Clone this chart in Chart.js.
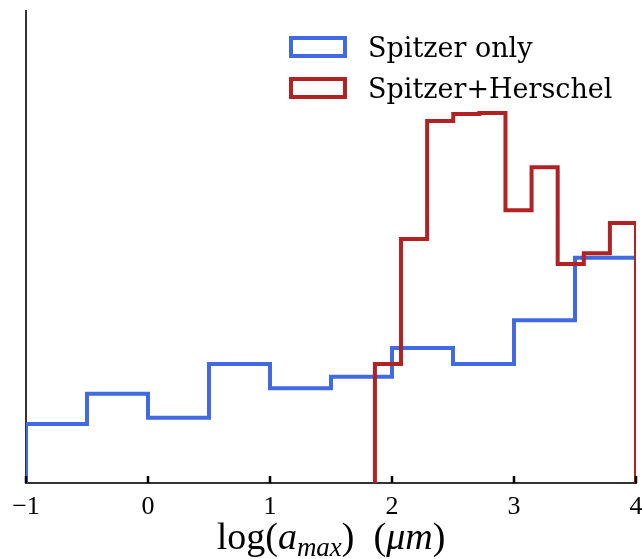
<!DOCTYPE html>
<html>
<head>
<meta charset="utf-8">
<script src="https://cdn.jsdelivr.net/npm/chart.js@4/dist/chart.umd.min.js"></script>
<style>
  html, body { margin: 0; padding: 0; background: #fff; }
  #wrap { width: 642px; height: 559px; }
</style>
</head>
<body>
<div id="wrap"><canvas id="chart" width="642" height="559"></canvas></div>
<script>
// histogram bin edges and heights (arbitrary normalised units)
const spitzerEdges = [-1, -0.5, 0, 0.5, 1, 1.5, 2, 2.5, 3, 3.5, 4];
const spitzerValues = [0.125, 0.189, 0.138, 0.252, 0.201, 0.225, 0.286, 0.252, 0.345, 0.477];

const herschelEdges = [1.86, 2.074, 2.288, 2.502, 2.716, 2.93, 3.144, 3.358, 3.572, 3.786, 4.0];
const herschelValues = [0.252, 0.517, 0.767, 0.782, 0.784, 0.578, 0.669, 0.464, 0.487, 0.551];

const xTicks = [-1, 0, 1, 2, 3, 4];
const seriesLabels = ["Spitzer only", "Spitzer+Herschel"];

// turn edges + heights into points for a stepped outline
function stepPoints(edges, values) {
  const pts = [{ x: edges[0], y: 0 }];
  values.forEach((v, i) => pts.push({ x: edges[i], y: v }));
  pts.push({ x: edges[edges.length - 1], y: 0 });
  return pts;
}

// inward tick marks on the bottom axis
const innerTicks = {
  id: "innerTicks",
  afterDraw(chart) {
    const ctx = chart.ctx;
    const xs = chart.scales.x;
    const bottom = chart.chartArea.bottom;
    ctx.save();
    ctx.strokeStyle = "#000";
    ctx.lineWidth = 2.5;
    xTicks.forEach((t) => {
      const px = Math.round(xs.getPixelForValue(t));
      ctx.beginPath();
      ctx.moveTo(px, bottom);
      ctx.lineTo(px, bottom - 7);
      ctx.stroke();
    });
    ctx.restore();
  },
};

// axis title with subscript, mathtext style
const axisTitle = {
  id: "axisTitle",
  afterDraw(chart) {
    const ctx = chart.ctx;
    const size = 38;
    const parts = [
      { t: "log(", f: `${size}px 'Liberation Serif'`, dy: 0 },
      { t: "a", f: `italic ${size}px 'Liberation Serif'`, dy: 0 },
      { t: "max", f: `italic ${Math.round(size * 0.7)}px 'Liberation Serif'`, dy: 7 },
      { t: ")  (", f: `${size}px 'Liberation Serif'`, dy: 0 },
      { t: "μm", f: `italic ${size}px 'Liberation Serif'`, dy: 0 },
      { t: ")", f: `${size}px 'Liberation Serif'`, dy: 0 },
    ];
    ctx.save();
    ctx.fillStyle = "#000";
    ctx.textBaseline = "alphabetic";
    let total = 0;
    parts.forEach((p) => {
      ctx.font = p.f;
      p.w = ctx.measureText(p.t).width;
      total += p.w;
    });
    const area = chart.chartArea;
    let x = (area.left + area.right) / 2 - total / 2;
    const y = 549;
    parts.forEach((p) => {
      ctx.font = p.f;
      ctx.fillText(p.t, x, y + p.dy);
      x += p.w;
    });
    ctx.restore();
  },
};

// legend inside the plot, top right, hollow boxes
const boxLegend = {
  id: "boxLegend",
  afterDraw(chart) {
    const ctx = chart.ctx;
    ctx.save();
    ctx.font = "27px 'DejaVu Serif'";
    ctx.textBaseline = "alphabetic";
    chart.data.datasets.forEach((ds, i) => {
      const top = 38 + i * 41;
      ctx.strokeStyle = ds.borderColor;
      ctx.lineWidth = 4;
      ctx.strokeRect(291, top, 54, 18);
      ctx.fillStyle = "#000";
      ctx.fillText(ds.label, 368, top + 19);
    });
    ctx.restore();
  },
};

const ctx = document.getElementById("chart").getContext("2d");

new Chart(ctx, {
  type: "line",
  data: {
    datasets: [
      {
        label: seriesLabels[0],
        data: stepPoints(spitzerEdges, spitzerValues),
        borderColor: "#4169e1",
        borderWidth: 4,
        stepped: "before",
        fill: false,
        pointRadius: 0,
        borderJoinStyle: "miter",
        order: 2,
      },
      {
        label: seriesLabels[1],
        data: stepPoints(herschelEdges, herschelValues),
        borderColor: "#b22222",
        borderWidth: 4,
        stepped: "before",
        fill: false,
        pointRadius: 0,
        borderJoinStyle: "miter",
        order: 1,
      },
    ],
  },
  options: {
    responsive: false,
    animation: false,
    layout: { padding: { top: 11, right: 6, left: 0, bottom: 0 } },
    plugins: {
      legend: { display: false },
      tooltip: { enabled: false },
    },
    scales: {
      x: {
        type: "linear",
        min: -1,
        max: 4,
        afterBuildTicks: (scale) => {
          scale.ticks = xTicks.map((v) => ({ value: v }));
        },
        afterFit: (scale) => {
          scale.height = 76;
          scale.paddingLeft = 0;
          scale.paddingRight = 0;
        },
        grid: { display: false, drawTicks: false },
        border: { display: true, color: "#333", width: 2 },
        ticks: {
          padding: 9,
          maxRotation: 0,
          color: "#000",
          font: { family: "'Liberation Serif'", size: 26 },
          callback: (v) => (v < 0 ? "\u2212" + Math.abs(v) : String(v)),
        },
      },
      y: {
        min: 0,
        max: 1,
        afterFit: (scale) => {
          scale.width = 26;
        },
        grid: { display: false, drawTicks: false },
        border: { display: true, color: "#333", width: 2 },
        ticks: { display: false },
      },
    },
  },
  plugins: [innerTicks, axisTitle, boxLegend],
});
</script>
</body>
</html>
